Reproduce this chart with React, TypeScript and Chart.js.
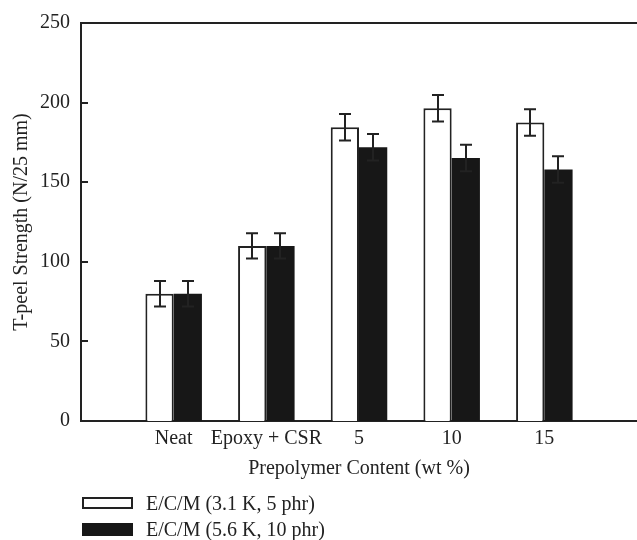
import React, { useEffect, useRef } from "react";
import { Chart, registerables } from "chart.js";

Chart.register(...registerables);

const categories = ["", "Neat", "Epoxy + CSR", "5", "10", "15", ""];
const seriesA = [null, 80, 110, 184.5, 196.5, 187.5, null];
const errorsA = [null, 8, 8, 8.3, 8.3, 8.3, null];
const seriesB = [null, 80, 110, 172, 165.2, 158, null];
const errorsB = [null, 8, 8, 8.3, 8.3, 8.3, null];
const seriesNames = ["E/C/M (3.1 K, 5 phr)", "E/C/M (5.6 K, 10 phr)"];
const yTicks = [0, 50, 100, 150, 200, 250];

const FONT = "'Liberation Serif', 'Times New Roman', serif";
const INK = "#222222";
const BLACK = "#171717";

const decorPlugin = {
  id: "decor",
  afterDatasetsDraw(chart: any) {
    const { ctx, chartArea, scales } = chart;
    const y = scales.y;
    ctx.save();
    ctx.strokeStyle = INK;
    ctx.lineWidth = 2;
    // top border
    ctx.beginPath();
    ctx.moveTo(chartArea.left - 1, chartArea.top);
    ctx.lineTo(chartArea.right + 2, chartArea.top);
    ctx.stroke();
    // inward y ticks
    yTicks.forEach((v) => {
      const py = Math.round(y.getPixelForValue(v));
      ctx.beginPath();
      ctx.moveTo(chartArea.left, py);
      ctx.lineTo(chartArea.left + 7, py);
      ctx.stroke();
    });
    // error bars
    const errs = [errorsA, errorsB];
    const vals = [seriesA, seriesB];
    chart.data.datasets.forEach((_: any, di: number) => {
      const meta = chart.getDatasetMeta(di);
      meta.data.forEach((el: any, i: number) => {
        const v = vals[di][i];
        const e = errs[di][i];
        if (v == null || e == null) return;
        const x = Math.round(el.x);
        const top = y.getPixelForValue(v + e);
        const bot = y.getPixelForValue(v - e);
        ctx.strokeStyle = INK;
        ctx.beginPath();
        ctx.moveTo(x, top);
        ctx.lineTo(x, bot);
        ctx.moveTo(x - 6, top);
        ctx.lineTo(x + 6, top);
        ctx.moveTo(x - 6, bot);
        ctx.lineTo(x + 6, bot);
        ctx.stroke();
      });
    });
    ctx.restore();
  },
};

export default function App() {
  const ref = useRef<HTMLCanvasElement>(null);
  useEffect(() => {
    if (!ref.current) return;
    const chart = new Chart(ref.current, {
      type: "bar",
      data: {
        labels: categories,
        datasets: [
          {
            label: seriesNames[0],
            data: seriesA as any,
            backgroundColor: "#ffffff",
            borderColor: INK,
            borderWidth: 2,
            borderSkipped: "bottom",
            categoryPercentage: 0.61,
            barPercentage: 1,
          },
          {
            label: seriesNames[1],
            data: seriesB as any,
            backgroundColor: BLACK,
            borderColor: BLACK,
            borderWidth: 0,
            categoryPercentage: 0.61,
            barPercentage: 1,
          },
        ],
      },
      options: {
        responsive: false,
        animation: false,
        layout: { padding: { top: 20, right: 2, bottom: 59, left: 0 } },
        plugins: {
          legend: { display: false },
          tooltip: { enabled: false },
        },
        scales: {
          x: {
            offset: false,
            grid: { display: false, drawTicks: false, offset: false },
            border: { display: true, color: INK, width: 2 },
            ticks: {
              color: INK,
              font: { family: FONT, size: 20 },
              padding: 6,
              autoSkip: false,
              maxRotation: 0,
            },
            title: {
              display: true,
              text: "Prepolymer Content (wt %)",
              color: INK,
              font: { family: FONT, size: 20 },
              padding: { top: 0, bottom: 0 },
            },
            afterFit: (s: any) => {
              s.height = 60;
            },
          },
          y: {
            min: 0,
            max: 250,
            grid: { display: false, drawTicks: false },
            border: { display: true, color: INK, width: 2 },
            ticks: {
              stepSize: 50,
              color: INK,
              font: { family: FONT, size: 20 },
              padding: 11,
            },
            title: {
              display: true,
              text: "T-peel Strength (N/25 mm)",
              color: INK,
              font: { family: FONT, size: 20 },
              padding: { top: 10, bottom: 0 },
            },
            afterFit: (s: any) => {
              s.width = 81;
            },
          },
        },
      },
      plugins: [decorPlugin],
    });
    return () => chart.destroy();
  }, []);

  const textStyle: React.CSSProperties = {
    position: "absolute",
    left: 146,
    fontFamily: FONT,
    fontSize: 20,
    color: INK,
    lineHeight: "24px",
    whiteSpace: "nowrap",
  };

  return (
    <div
      style={{
        position: "absolute",
        left: 0,
        top: 0,
        width: 637,
        height: 540,
        overflow: "hidden",
        background: "#ffffff",
      }}
    >
      <canvas ref={ref} width={643} height={540} style={{ display: "block" }} />
      <div
        style={{
          position: "absolute",
          left: 82,
          top: 497,
          width: 51,
          height: 12,
          boxSizing: "border-box",
          border: `2px solid ${INK}`,
          background: "#fff",
        }}
      />
      <div style={{ ...textStyle, top: 491 }}>{seriesNames[0]}</div>
      <div
        style={{
          position: "absolute",
          left: 82,
          top: 523,
          width: 51,
          height: 13,
          background: BLACK,
        }}
      />
      <div style={{ ...textStyle, top: 517 }}>{seriesNames[1]}</div>
    </div>
  );
}
